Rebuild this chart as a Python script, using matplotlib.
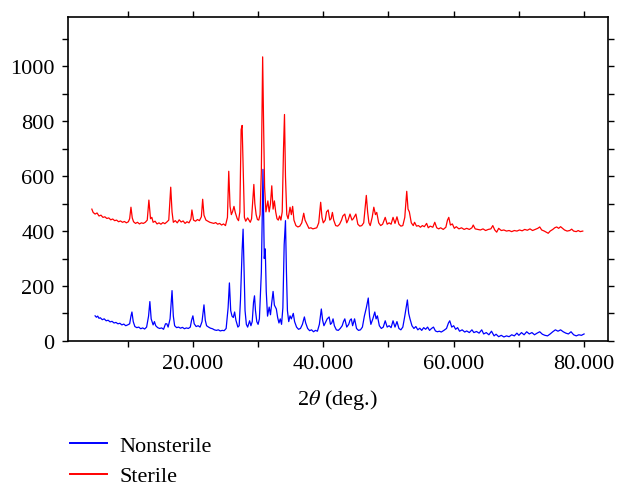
import matplotlib.pyplot as plt

# XRD patterns: sterile vs nonsterile sample

sterile_2theta = [
    4.5, 4.7, 5.0, 5.3, 5.6, 5.9, 6.2, 6.5, 6.8, 7.1, 7.4, 7.7, 8.0, 8.3, 8.6, 8.9,
    9.2, 9.5, 9.8, 10.1, 10.3, 10.5, 10.7, 10.9, 11.2, 11.5, 11.8, 12.1, 12.4, 12.7,
    13.0, 13.25, 13.5, 13.7, 13.9, 14.2, 14.5, 14.8, 15.1, 15.4, 15.7, 16.0, 16.3,
    16.6, 16.8, 17.0, 17.3, 17.6, 17.9, 18.2, 18.5, 18.8, 19.1, 19.4, 19.7, 19.85,
    20.1, 20.4, 20.7, 21.0, 21.3, 21.5, 21.7, 22.0, 22.3, 22.6, 22.9, 23.2, 23.5,
    23.8, 24.1, 24.4, 24.7, 25.0, 25.3, 25.5, 25.7, 25.9, 26.1, 26.3, 26.5, 26.8,
    27.0, 27.2, 27.4, 27.55, 27.75, 27.9, 28.1, 28.4, 28.6, 28.8, 29.0, 29.2, 29.35,
    29.5, 29.7, 29.9, 30.1, 30.3, 30.5, 30.7, 30.85, 31.0, 31.2, 31.5, 31.7, 31.9,
    32.1, 32.3, 32.5, 32.7, 32.9, 33.1, 33.3, 33.5, 33.7, 33.9, 34.05, 34.2, 34.4,
    34.6, 34.9, 35.1, 35.3, 35.5, 35.8, 36.1, 36.4, 36.7, 37.0, 37.2, 37.5, 37.8,
    38.1, 38.4, 38.7, 39.0, 39.3, 39.6, 39.8, 40.0, 40.3, 40.5, 40.75, 41.0, 41.2,
    41.4, 41.6, 41.9, 42.2, 42.5, 42.8, 43.0, 43.3, 43.6, 43.8, 44.1, 44.4, 44.6,
    45.0, 45.3, 45.6, 45.9, 46.2, 46.4, 46.6, 46.8, 47.0, 47.2, 47.5, 47.75, 48.0,
    48.2, 48.5, 48.8, 49.1, 49.5, 49.8, 50.1, 50.4, 50.7, 51.0, 51.3, 51.6, 51.9,
    52.2, 52.5, 52.8, 53.0, 53.2, 53.5, 53.8, 54.0, 54.3, 54.6, 54.9, 55.2, 55.5,
    55.85, 56.1, 56.4, 56.8, 57.1, 57.4, 57.7, 58.0, 58.4, 58.8, 59.05, 59.25, 59.5,
    59.8, 60.1, 60.4, 60.8, 61.2, 61.6, 62.0, 62.4, 62.8, 63.0, 63.3, 63.7, 64.1,
    64.5, 64.9, 65.3, 65.7, 66.0, 66.3, 66.6, 66.9, 67.3, 67.7, 68.1, 68.5, 68.9,
    69.3, 69.7, 70.1, 70.5, 70.9, 71.3, 71.7, 72.1, 72.5, 72.9, 73.2, 73.5, 73.9,
    74.2, 74.5, 74.8, 75.2, 75.5, 75.8, 76.1, 76.4, 76.7, 77.0, 77.4, 77.8, 78.1,
    78.4, 78.8, 79.1, 79.4, 79.8,
]
sterile_counts = [
    480, 468, 462, 466, 455, 458, 450, 452, 446, 448, 441, 444, 438, 440, 434, 437,
    432, 435, 430, 434, 445, 487, 448, 434, 428, 432, 426, 430, 428, 432,
    440, 513, 445, 450, 432, 436, 426, 430, 425, 431, 427, 433, 440,
    560, 470, 432, 438, 430, 441, 433, 437, 428, 434, 430, 444, 477,
    440, 436, 442, 438, 452, 516, 458, 440, 436, 432, 430, 428, 431,
    425, 428, 422, 426, 420, 450, 618, 490, 460, 472, 490, 468, 445,
    438, 470, 770, 785, 600, 450, 436, 448, 440, 432, 445, 520, 570,
    500, 460, 442, 440, 460, 620, 1035, 780, 560, 470, 510, 470, 500,
    565, 480, 510, 470, 445, 440, 455, 440, 470, 700, 825, 600, 460,
    445, 487, 460, 490, 440, 420, 415, 418, 430, 465, 440, 425, 410,
    412, 408, 410, 412, 430, 505, 450, 430, 440, 470, 477, 440, 445,
    468, 440, 420, 418, 425, 440, 455, 462, 430, 440, 462, 440, 445,
    462, 425, 418, 420, 430, 480, 530, 470, 430, 420, 450, 487, 460,
    468, 430, 420, 425, 450, 425, 430, 425, 450, 428, 452, 425, 418,
    420, 450, 545, 480, 470, 430, 420, 432, 418, 420, 414, 420, 416,
    428, 412, 418, 414, 432, 412, 408, 412, 406, 414, 440, 450, 422,
    426, 410, 416, 408, 412, 406, 410, 406, 412, 422, 408, 406, 404,
    408, 402, 406, 408, 420, 404, 396, 410, 402, 404, 400, 402, 398,
    402, 400, 404, 401, 406, 403, 408, 402, 406, 410, 415, 404, 400,
    396, 392, 400, 406, 412, 415, 410, 416, 410, 404, 400, 402, 407,
    400, 398, 402, 398, 400,
]

nonsterile_2theta = [
    5.0, 5.2, 5.4, 5.6, 5.8, 6.1, 6.4, 6.7, 7.0, 7.3, 7.6, 7.9, 8.2, 8.5, 8.8, 9.1,
    9.4, 9.7, 10.0, 10.3, 10.5, 10.65, 10.85, 11.1, 11.4, 11.7, 12.0, 12.3, 12.6,
    12.9, 13.2, 13.4, 13.6, 13.9, 14.1, 14.3, 14.6, 14.9, 15.2, 15.5, 15.8, 16.0,
    16.2, 16.5, 16.8, 17.0, 17.2, 17.5, 17.8, 18.1, 18.4, 18.7, 19.0, 19.3, 19.6,
    19.8, 20.0, 20.2, 20.5, 20.8, 21.1, 21.4, 21.7, 21.9, 22.1, 22.4, 22.7, 23.0,
    23.3, 23.6, 23.9, 24.2, 24.5, 24.8, 25.1, 25.4, 25.6, 25.8, 26.0, 26.2, 26.4,
    26.6, 26.9, 27.1, 27.3, 27.55, 27.7, 27.85, 28.0, 28.2, 28.4, 28.7, 28.9, 29.1,
    29.3, 29.45, 29.6, 29.8, 30.0, 30.2, 30.5, 30.75, 30.95, 31.1, 31.25, 31.45,
    31.7, 31.9, 32.1, 32.3, 32.5, 32.8, 33.0, 33.2, 33.4, 33.6, 33.8, 34.0, 34.2,
    34.35, 34.5, 34.7, 34.9, 35.1, 35.4, 35.6, 35.9, 36.2, 36.5, 36.8, 37.1, 37.3,
    37.6, 37.9, 38.2, 38.5, 38.8, 39.1, 39.4, 39.7, 39.9, 40.1, 40.4, 40.6, 40.9,
    41.1, 41.3, 41.5, 41.7, 42.0, 42.3, 42.6, 42.9, 43.1, 43.3, 43.6, 43.9, 44.1,
    44.3, 44.5, 44.8, 45.1, 45.4, 45.7, 46.0, 46.3, 46.6, 46.9, 47.1, 47.3, 47.6,
    47.9, 48.1, 48.3, 48.6, 48.9, 49.2, 49.5, 49.8, 50.1, 50.4, 50.7, 51.0, 51.3,
    51.6, 51.9, 52.2, 52.5, 52.9, 53.1, 53.3, 53.6, 53.9, 54.2, 54.5, 54.8, 55.1,
    55.4, 55.7, 56.0, 56.3, 56.6, 56.9, 57.2, 57.5, 57.8, 58.1, 58.5, 58.9, 59.2,
    59.4, 59.7, 60.0, 60.3, 60.6, 60.9, 61.3, 61.7, 62.0, 62.4, 62.8, 63.1, 63.5,
    63.9, 64.3, 64.6, 65.0, 65.4, 65.8, 66.2, 66.5, 66.9, 67.3, 67.7, 68.1, 68.5,
    68.9, 69.3, 69.7, 70.0, 70.4, 70.8, 71.2, 71.6, 72.0, 72.4, 72.8, 73.2, 73.6,
    74.0, 74.4, 74.8, 75.2, 75.6, 76.0, 76.4, 76.8, 77.2, 77.6, 78.0, 78.4, 78.8,
    79.2, 79.6, 80.0,
]
nonsterile_counts = [
    91, 86, 90, 82, 84, 77, 80, 73, 75, 69, 71, 65, 67, 62, 64, 58,
    61, 55, 58, 62, 90, 105, 70, 52, 48, 50, 44, 47, 43,
    50, 90, 143, 80, 58, 70, 55, 48, 45, 47, 42, 62, 62,
    50, 80, 183, 90, 55, 48, 50, 46, 49, 44, 47, 45, 50,
    75, 91, 62, 52, 55, 50, 70, 131, 75, 55, 50, 46, 44,
    40, 38, 40, 36, 38, 37, 45, 120, 211, 110, 90, 85, 105,
    75, 50, 55, 150, 330, 407, 250, 110, 60, 50, 73, 55, 70,
    140, 164, 110, 70, 60, 80, 250, 625, 300, 335, 180, 90,
    123, 95, 140, 180, 130, 116, 85, 65, 80, 60, 120, 350, 438,
    250, 110, 70, 91, 80, 100, 70, 50, 42, 45, 60, 87, 65,
    45, 37, 40, 33, 38, 35, 60, 116, 75, 55, 70, 80, 87,
    60, 65, 80, 55, 40, 38, 45, 55, 70, 80, 50, 60, 75,
    80, 55, 80, 45, 38, 40, 50, 90, 120, 156, 90, 60, 80,
    105, 80, 91, 55, 45, 50, 73, 50, 55, 48, 73, 50, 70,
    45, 40, 50, 90, 149, 100, 80, 55, 45, 52, 40, 46, 38,
    48, 42, 50, 38, 45, 50, 36, 33, 35, 32, 38, 45, 65,
    73, 50, 55, 42, 48, 35, 40, 32, 36, 30, 40, 30, 34,
    28, 40, 25, 30, 22, 35, 18, 24, 15, 20, 14, 18, 15,
    22, 18, 28, 20, 30, 22, 33, 25, 30, 22, 28, 33, 24,
    20, 18, 25, 33, 40, 35, 40, 33, 28, 25, 33, 22, 18,
    22, 20, 25,
]

x_ticks = [20, 40, 60, 80]
x_tick_labels = ["20.000", "40.000", "60.000", "80.000"]
y_ticks = [0, 200, 400, 600, 800, 1000]

plt.rcParams["font.family"] = ["Liberation Serif", "DejaVu Serif"]
plt.rcParams["mathtext.fontset"] = "stix"

fig = plt.figure(figsize=(6.27, 4.89), dpi=100)
ax = fig.add_axes([0.108, 0.301, 0.862, 0.662])

ax.plot(nonsterile_2theta, nonsterile_counts, color="#0000ff", lw=0.9, label="Nonsterile")
ax.plot(sterile_2theta, sterile_counts, color="#ff0000", lw=0.9, label="Sterile")

ax.set_xlim(0.8, 83.7)
ax.set_ylim(0, 1180)
ax.set_xticks(x_ticks)
ax.set_xticklabels(x_tick_labels)
ax.set_xticks([10, 30, 50, 70], minor=True)
ax.set_yticks(y_ticks)
ax.set_yticks(range(100, 1200, 200), minor=True)

ax.tick_params(which="both", direction="out", top=True, right=True,
               labeltop=False, labelright=False, length=4.5, width=1,
               labelsize=16, pad=5)
for s in ax.spines.values():
    s.set_linewidth(1.2)

ax.set_xlabel(r"2$\theta$ (deg.)", fontsize=16, labelpad=10)

leg = fig.legend(loc="upper left", bbox_to_anchor=(0.111, 0.108), frameon=False,
                 fontsize=16, handlelength=1.7, labelspacing=0.45, handletextpad=0.55,
                 borderaxespad=0, borderpad=0)
for h in leg.legend_handles:
    h.set_linewidth(1.4)

fig.savefig("out.png", dpi=100)
